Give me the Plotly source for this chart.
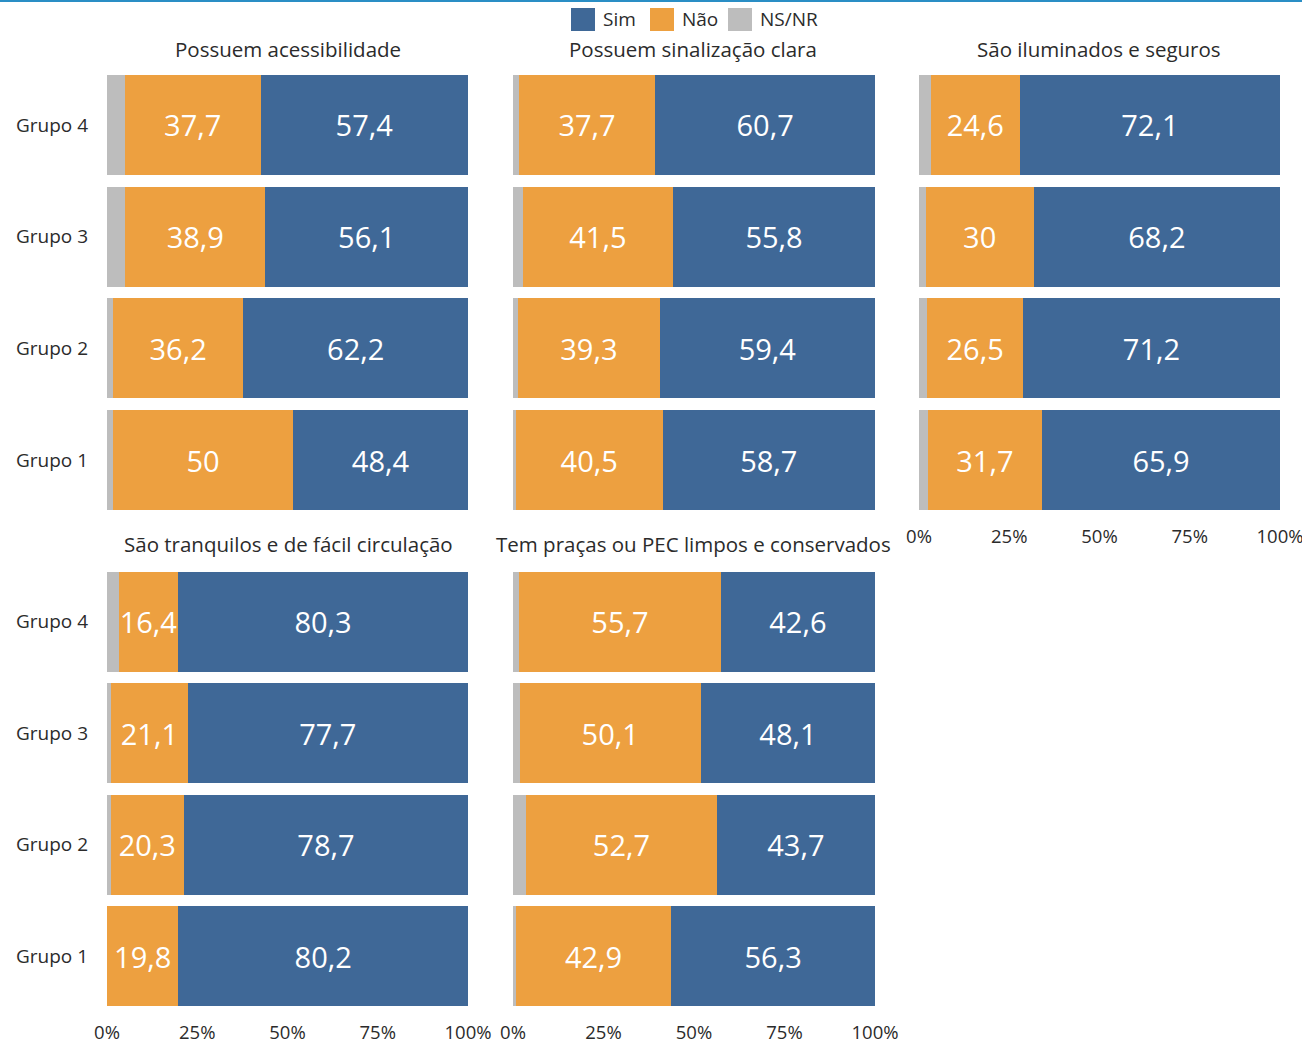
import plotly.graph_objects as go
from plotly.subplots import make_subplots

groups = ["Grupo 1", "Grupo 2", "Grupo 3", "Grupo 4"]
titles = ["Possuem acessibilidade", "Possuem sinalização clara", "São iluminados e seguros",
          "São tranquilos e de fácil circulação", "Tem praças ou PEC limpos e conservados"]
# values listed for Grupo 1..4
nao = [
    [50, 36.2, 38.9, 37.7],
    [40.5, 39.3, 41.5, 37.7],
    [31.7, 26.5, 30, 24.6],
    [19.8, 20.3, 21.1, 16.4],
    [42.9, 52.7, 50.1, 55.7],
]
sim = [
    [48.4, 62.2, 56.1, 57.4],
    [58.7, 59.4, 55.8, 60.7],
    [65.9, 71.2, 68.2, 72.1],
    [80.2, 78.7, 77.7, 80.3],
    [56.3, 43.7, 48.1, 42.6],
]
tick_vals = [0, 25, 50, 75, 100]
tick_text = ["0%", "25%", "50%", "75%", "100%"]
legend_names = ["Sim", "Não", "NS/NR"]

C_SIM = "#3f6897"
C_NAO = "#eda040"
C_NS = "#bdbdbd"
FONT = "Open Sans"
TXT = "#2b2b2b"


def fmt(v):
    s = ("%.1f" % v).rstrip("0").rstrip(".")
    return s.replace(".", ",")


fig = make_subplots(rows=2, cols=3)
pos = [(1, 1), (1, 2), (1, 3), (2, 1), (2, 2)]
for i, (r, c) in enumerate(pos):
    ns = [round(100 - a - b, 1) for a, b in zip(nao[i], sim[i])]
    fig.add_trace(go.Bar(y=groups, x=ns, orientation="h", name="NS/NR", marker_color=C_NS,
                         showlegend=False), row=r, col=c)
    fig.add_trace(go.Bar(y=groups, x=nao[i], orientation="h", name="Não", marker_color=C_NAO,
                         text=[fmt(v) for v in nao[i]], textposition="inside",
                         insidetextanchor="middle", showlegend=False), row=r, col=c)
    fig.add_trace(go.Bar(y=groups, x=sim[i], orientation="h", name="Sim", marker_color=C_SIM,
                         text=[fmt(v) for v in sim[i]], textposition="inside",
                         insidetextanchor="middle", showlegend=False), row=r, col=c)

fig.update_traces(textfont=dict(color="white", size=29, family=FONT), marker_line_width=0,
                  textangle=0)

W, H = 1302, 1044
L, R, T, B = 107, 22, 75, 38
pw, ph = W - L - R, H - T - B


def px_x(p):
    return (p - L) / pw


def px_y(p):
    return (H - B - p) / ph


col_dom = [[px_x(107), px_x(468)], [px_x(513), px_x(875)], [px_x(919), px_x(1280)]]
row_dom = [[px_y(510), px_y(75)], [px_y(1006), px_y(572)]]

g = 0.107
for k in range(6):
    r, c = divmod(k, 3)
    suffix = "" if k == 0 else str(k + 1)
    xa = "xaxis" + suffix
    ya = "yaxis" + suffix
    fig.layout[xa].update(domain=col_dom[c], range=[0, 100], tickvals=tick_vals, ticktext=tick_text,
                          showgrid=False, zeroline=False, showline=False, ticks="",
                          tickfont=dict(size=18.5, color=TXT, family=FONT),
                          showticklabels=(r == 1 or c == 2), ticklabelstandoff=13,
                          ticklabeloverflow="allow")
    fig.layout[ya].update(domain=row_dom[r], range=[-0.5 + g / 2, 3.5 - g / 2], showgrid=False,
                          zeroline=False, showline=False, ticks="",
                          tickfont=dict(size=19, color=TXT, family=FONT),
                          showticklabels=(c == 0), ticklabelstandoff=18)
    if k == 5:
        fig.layout[xa].visible = False
        fig.layout[ya].visible = False

title_pos = [(288, 49), (693, 49), (1099, 49), (288, 544), (693, 544)]
for t, (px, py) in zip(titles, title_pos):
    fig.add_annotation(text=t, xref="paper", yref="paper", x=px_x(px), y=px_y(py),
                       xanchor="center", yanchor="middle", showarrow=False,
                       font=dict(size=20.5, color=TXT, family=FONT))

# top rule
fig.add_shape(type="line", xref="paper", yref="paper", x0=px_x(0), x1=px_x(W),
              y0=px_y(1), y1=px_y(1), line=dict(color="#2a8ec5", width=2))

# legend drawn manually (large square swatches)
leg_colors = [C_SIM, C_NAO, C_NS]
sw_x = [571, 650, 728]
for name, col, sx in zip(legend_names, leg_colors, sw_x):
    fig.add_shape(type="rect", xref="paper", yref="paper", x0=px_x(sx), x1=px_x(sx + 24),
                  y0=px_y(31), y1=px_y(8), fillcolor=col, line=dict(width=0))
    fig.add_annotation(text=name, xref="paper", yref="paper", x=px_x(sx + 30), y=px_y(19),
                       xanchor="left", yanchor="middle", showarrow=False,
                       font=dict(size=19, color=TXT, family=FONT))

fig.update_layout(
    width=W, height=H, barmode="stack", bargap=g,
    margin=dict(l=L, r=R, t=T, b=B, autoexpand=False),
    paper_bgcolor="white", plot_bgcolor="white",
    font=dict(family=FONT, color=TXT),
    uniformtext=dict(minsize=29, mode="show"),
    showlegend=False,
)

fig.write_html("out.html", config={"displayModeBar": False},
               post_script="document.body.style.margin='0';document.body.style.padding='0';")
